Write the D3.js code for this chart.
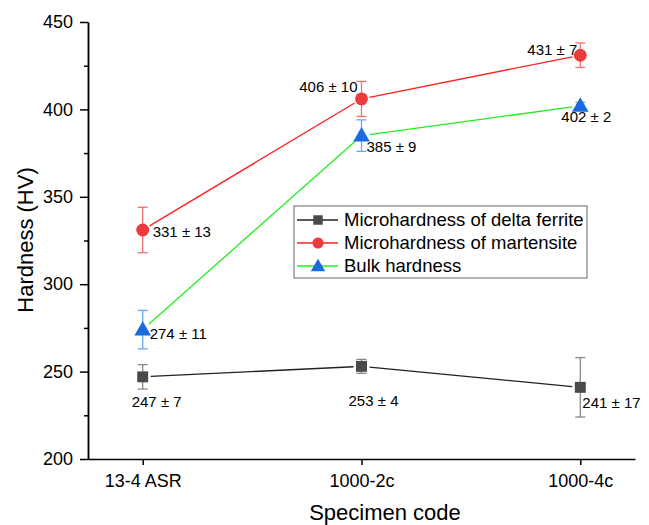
<!DOCTYPE html>
<html>
<head>
<meta charset="utf-8">
<script src="https://cdn.jsdelivr.net/npm/d3@7"></script>
<style>
  body { margin: 0; background: #fff; }
  svg text { font-family: "Liberation Sans", Arial, sans-serif; fill: #000; }
</style>
</head>
<body>
<div id="chart"></div>
<script>
// data
var specimens = ["13-4 ASR", "1000-2c", "1000-4c"];
var seriesNames = ["Microhardness of delta ferrite", "Microhardness of martensite", "Bulk hardness"];
var ferrite = [247, 253, 241];
var ferriteErr = [7, 4, 17];
var martensite = [331, 406, 431];
var martensiteErr = [13, 10, 7];
var bulk = [274, 385, 402];
var bulkErr = [11, 9, 2];
var yTicks = [200, 250, 300, 350, 400, 450];

var W = 649, H = 525;
var margin = { top: 22, left: 88, right: 14, bottom: 66 };
var width = W - margin.left - margin.right,
    height = H - margin.top - margin.bottom;

var svg = d3.select("#chart").append("svg")
    .attr("width", W).attr("height", H);
var g = svg.append("g")
    .attr("transform", "translate(" + margin.left + "," + margin.top + ")");

var x = d3.scaleLinear().domain([0.75, 3.25]).range([0, width]);
var y = d3.scaleLinear().domain([200, 450]).range([height, 0]);

// axes
var xAxis = d3.axisBottom(x).tickValues([1, 2, 3])
    .tickFormat(function(d) { return specimens[d - 1]; })
    .tickSize(6).tickSizeOuter(0).tickPadding(9);
var gx = g.append("g").attr("transform", "translate(0," + height + ")").call(xAxis);

var yMinor = d3.axisLeft(y).tickValues(d3.range(225, 450, 50))
    .tickSize(4).tickSizeOuter(0).tickFormat("");
g.append("g").call(yMinor);
var yAxis = d3.axisLeft(y).tickValues(yTicks).tickSize(8).tickSizeOuter(0).tickPadding(7);
var gy = g.append("g").call(yAxis);

g.selectAll(".domain, .tick line").attr("stroke", "#000").attr("stroke-width", 1.5);
gx.selectAll("text").style("font-size", "18px");
gy.selectAll("text").style("font-size", "18px");

svg.append("text").attr("x", 385).attr("y", 520)
    .attr("text-anchor", "middle").style("font-size", "22px").text("Specimen code");
svg.append("text").attr("transform", "translate(25,240) rotate(-90)")
    .attr("text-anchor", "middle").attr("dy", "0.35em").style("font-size", "22px").text("Hardness (HV)");

var series = [
  { name: seriesNames[0], vals: ferrite, errs: ferriteErr, line: "#222", err: "#888", fill: "#4a4a4a", shape: d3.symbolSquare, size: 120 },
  { name: seriesNames[1], vals: martensite, errs: martensiteErr, line: "#ff2020", err: "#f07070", fill: "#ec3b3b", shape: d3.symbolCircle, size: 130 },
  { name: seriesNames[2], vals: bulk, errs: bulkErr, line: "#22ee22", err: "#6aa8f0", fill: "#1b6be0", shape: d3.symbolTriangle, size: 120 }
];

// label placement [dx, dy (to text centre), anchor] relative to point
var labelPlace = [
  [[-11, 25, "start"], [12, 34, "middle"], [2, 15, "start"]],
  [[10, 2, "start"], [-4, -12, "end"], [-3, -5, "end"]],
  [[7, 4, "start"], [5, 11, "start"], [-19, 11, "start"]]
];

var gap = 8;
series.forEach(function(s, si) {
  var pts = s.vals.map(function(v, i) { return [x(i + 1), y(v)]; });
  // line segments with a gap around symbols
  for (var i = 0; i < pts.length - 1; i++) {
    var a = pts[i], b = pts[i + 1];
    var dx = b[0] - a[0], dy = b[1] - a[1], len = Math.sqrt(dx * dx + dy * dy);
    var ux = dx / len, uy = dy / len;
    g.append("line")
      .attr("x1", a[0] + ux * gap).attr("y1", a[1] + uy * gap)
      .attr("x2", b[0] - ux * gap).attr("y2", b[1] - uy * gap)
      .attr("stroke", s.line).attr("stroke-width", 1.3);
  }
  var eb = g.append("g");
  s.vals.forEach(function(v, i) {
    var cx = x(i + 1);
    eb.append("line").attr("x1", cx).attr("x2", cx)
      .attr("y1", y(v - s.errs[i])).attr("y2", y(v + s.errs[i]))
      .attr("stroke", s.err).attr("stroke-width", 1.3);
    [v - s.errs[i], v + s.errs[i]].forEach(function(e) {
      eb.append("line").attr("x1", cx - 5).attr("x2", cx + 5)
        .attr("y1", y(e)).attr("y2", y(e))
        .attr("stroke", s.err).attr("stroke-width", 1.3);
    });
  });
  g.append("g").selectAll("path").data(s.vals).enter().append("path")
    .attr("d", d3.symbol().type(s.shape).size(s.size))
    .attr("transform", function(d, i) {
      var off = s.shape === d3.symbolTriangle ? 1 : 0;
      return "translate(" + x(i + 1) + "," + (y(d) + off) + ")";
    })
    .attr("fill", s.fill);
  g.append("g").selectAll("text").data(s.vals).enter().append("text")
    .attr("x", function(d, i) { return x(i + 1) + labelPlace[si][i][0]; })
    .attr("y", function(d, i) { return y(d) + labelPlace[si][i][1]; })
    .attr("dy", "0.35em")
    .attr("text-anchor", function(d, i) { return labelPlace[si][i][2]; })
    .style("font-size", "15px")
    .text(function(d, i) { return d + " \u00b1 " + s.errs[i]; });
});

// legend
var lg = svg.append("g").attr("transform", "translate(294,206)");
lg.append("rect").attr("width", 293).attr("height", 72)
  .attr("fill", "#fff").attr("stroke", "#666").attr("stroke-width", 1);
series.forEach(function(s, i) {
  var yy = 14 + i * 23;
  lg.append("line").attr("x1", 3).attr("x2", 44).attr("y1", yy).attr("y2", yy)
    .attr("stroke", s.line).attr("stroke-width", 1.3);
  lg.append("path").attr("d", d3.symbol().type(s.shape).size(s.size * 0.75))
    .attr("transform", "translate(24," + (yy + (s.shape === d3.symbolTriangle ? 1 : 0)) + ")")
    .attr("fill", s.fill);
  lg.append("text").attr("x", 50).attr("y", yy).attr("dy", "0.35em")
    .style("font-size", "18.5px").text(s.name);
});
</script>
</body>
</html>
